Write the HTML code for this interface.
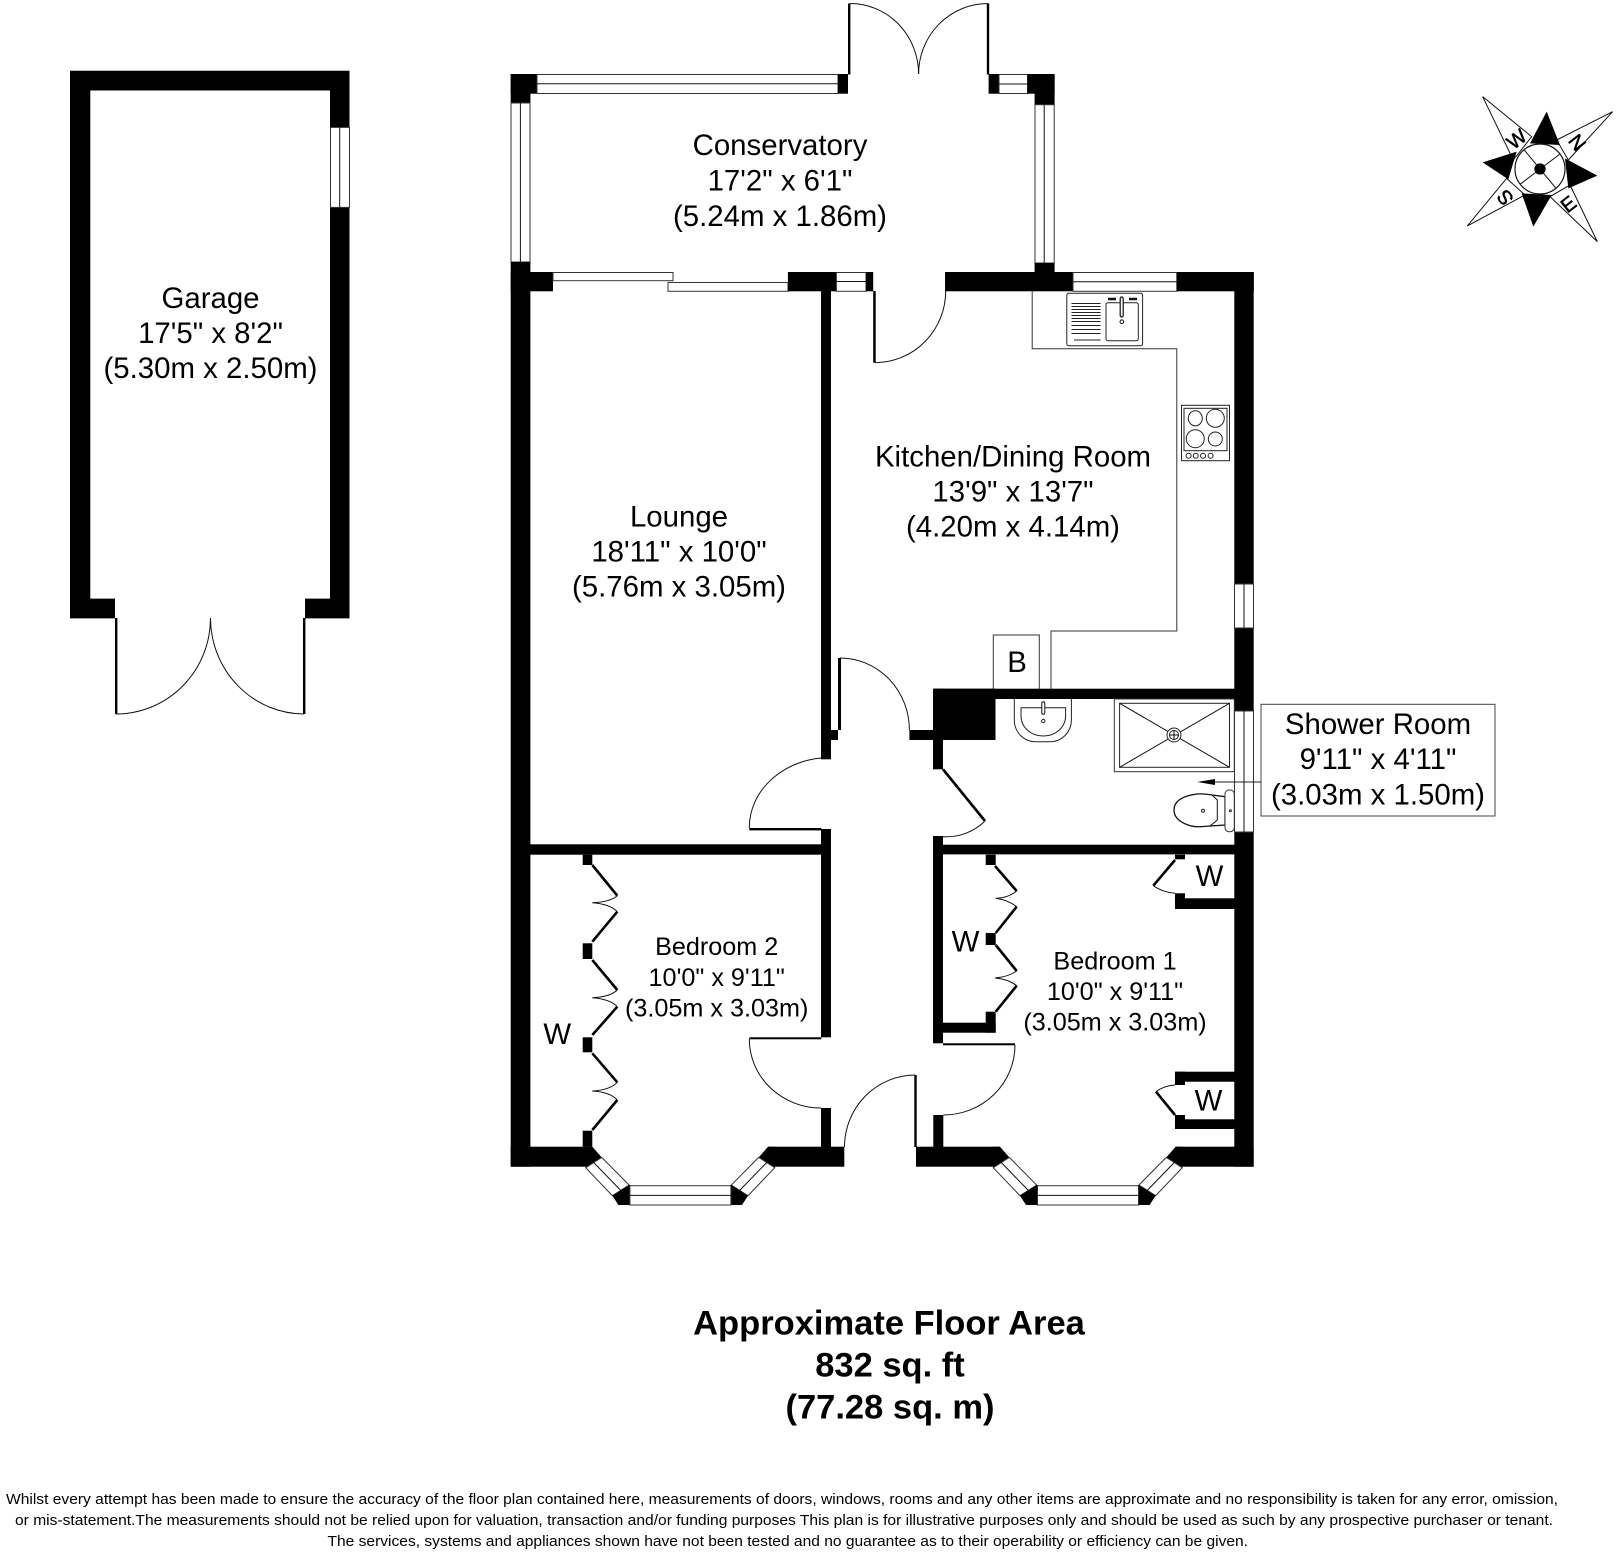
<!DOCTYPE html>
<html><head><meta charset="utf-8"><style>
html,body{margin:0;padding:0;background:#fff}
svg{display:block}
text{font-family:"Liberation Sans",sans-serif;fill:#000;text-anchor:middle}
.l{font-size:29.4px}.m{font-size:25.2px}
.w{fill:#fff;stroke:#333;stroke-width:1}
.t{fill:none;stroke:#111;stroke-width:1}
.d{fill:none;stroke:#000;stroke-width:2.6}
.u{fill:none;stroke:#333;stroke-width:1}
.b{fill:#000}
</style></head><body>
<svg width="1616" height="1554" viewBox="0 0 1616 1554" xmlns="http://www.w3.org/2000/svg">
<defs>
<g id="bayhalf">
<polygon class="b" points="-7,0 0,0 9.3,10.7 -6.7,21 -7,20"/>
<polygon class="w" points="9.3,10.7 36.7,38.3 20,49 -6.7,21"/>
<line class="t" x1="1.3" y1="15.8" x2="28.3" y2="43.7"/>
<polygon class="b" points="36.7,38.3 37.8,38.3 37.8,58.3 26,58.3 20,49"/>
</g>
<g id="bay">
<use href="#bayhalf"/>
<use href="#bayhalf" transform="translate(175.6,0) scale(-1,1)"/>
<rect class="w" x="37.5" y="39" width="101" height="19.3"/>
<line class="t" x1="37.5" y1="48.7" x2="138.5" y2="48.7"/>
</g>
</defs>
<rect width="1616" height="1554" fill="#fff"/>

<!-- Garage -->
<path class="b" fill-rule="evenodd" d="M70 70.7H349.5V618.4H305V598.6H330V90.5H90.3V598.6H115V618.4H70Z"/>
<rect class="w" x="330.5" y="127.4" width="19" height="80"/>
<line class="t" x1="339.7" y1="127.4" x2="339.7" y2="207.4"/>
<rect class="b" x="115" y="618" width="2.4" height="96"/>
<rect class="b" x="303" y="618" width="2.4" height="96"/>
<path class="t" d="M116 714A94.5 96 0 0 0 210.5 618"/>
<path class="t" d="M304 714A94 96 0 0 1 210.5 618"/>
<text class="l" x="210.5" y="308">Garage</text>
<text class="l" x="210.5" y="343">17'5" x 8'2"</text>
<text class="l" x="210.5" y="378">(5.30m x 2.50m)</text>

<!-- Conservatory -->
<rect class="b" x="510.7" y="74" width="26.3" height="19.7"/>
<rect class="b" x="510.7" y="74" width="19.7" height="29"/>
<rect class="w" x="537" y="74.5" width="301" height="19"/>
<line class="t" x1="537" y1="83.7" x2="838" y2="83.7"/>
<rect class="b" x="838" y="74" width="10" height="19.7"/>
<rect class="b" x="848" y="3.5" width="2.4" height="71"/>
<path class="t" d="M850 3.5A68.5 70.5 0 0 1 918.6 74"/>
<rect class="b" x="986.8" y="3.5" width="2.4" height="71"/>
<path class="t" d="M988 3.5A69.5 70.5 0 0 0 918.6 74"/>
<rect class="b" x="988.6" y="74" width="10.4" height="19.7"/>
<rect class="w" x="999" y="74.5" width="28.5" height="19"/>
<line class="t" x1="999" y1="84" x2="1027.5" y2="84"/>
<rect class="b" x="1027.5" y="74" width="27.1" height="19.7"/>
<rect class="b" x="1034.6" y="74" width="20" height="30.7"/>
<rect class="w" x="511" y="103" width="19" height="159"/>
<line class="t" x1="520.4" y1="103" x2="520.4" y2="262"/>
<rect class="w" x="1035" y="104.7" width="19.2" height="158.3"/>
<line class="t" x1="1044.2" y1="104.7" x2="1044.2" y2="263"/>
<rect class="b" x="1034.6" y="263" width="20" height="10"/>
<text class="l" x="780" y="155">Conservatory</text>
<text class="l" x="780" y="190.7">17'2" x 6'1"</text>
<text class="l" x="780" y="226">(5.24m x 1.86m)</text>

<!-- Top wall of house -->
<rect class="b" x="510.7" y="262" width="19.7" height="904.7"/>
<rect class="b" x="510.7" y="272" width="42.3" height="19.3"/>
<rect class="w" x="553" y="272.5" width="120" height="8.2"/>
<rect class="w" x="668" y="282.5" width="120" height="8.8"/>
<rect class="b" x="787.9" y="272" width="48.5" height="19.3"/>
<rect class="w" x="836.4" y="272.5" width="29.6" height="18.8"/>
<line class="t" x1="836.4" y1="281.5" x2="866" y2="281.5"/>
<rect class="b" x="866" y="272" width="7.2" height="19.3"/>
<rect class="b" x="873.2" y="291" width="2.5" height="71.7"/>
<path class="t" d="M875 362.7A71 71.7 0 0 0 945.7 291"/>
<rect class="b" x="945" y="272" width="128" height="19.3"/>
<rect class="w" x="1073" y="272.5" width="103.8" height="18.8"/>
<line class="t" x1="1073" y1="281.7" x2="1176.8" y2="281.7"/>
<rect class="b" x="1176.8" y="272" width="77" height="19.3"/>

<!-- Right wall -->
<rect class="b" x="1234.3" y="272" width="19.4" height="894.7"/>
<rect class="w" x="1234.5" y="584" width="19" height="44"/>
<line class="t" x1="1244" y1="584" x2="1244" y2="628"/>
<rect class="w" x="1234.5" y="711" width="19" height="121"/>
<line class="t" x1="1244" y1="711" x2="1244" y2="832"/>

<!-- Kitchen units -->
<path class="u" d="M1032.2 291V348.7H1176.8V631H1051V689"/>
<path class="u" d="M993.3 689V635H1039.3V689"/>
<rect x="1066.8" y="293.3" width="75.8" height="52.4" rx="2" fill="#fff" stroke="#222"/>
<g stroke="#222" stroke-width="1">
<line x1="1071.5" y1="303.5" x2="1100.6" y2="303.5"/><line x1="1071.5" y1="306.5" x2="1100.6" y2="306.5"/>
<line x1="1071.5" y1="309.5" x2="1100.6" y2="309.5"/><line x1="1071.5" y1="312.5" x2="1100.6" y2="312.5"/>
<line x1="1071.5" y1="315.5" x2="1100.6" y2="315.5"/><line x1="1071.5" y1="318.5" x2="1100.6" y2="318.5"/>
<line x1="1071.5" y1="321.5" x2="1100.6" y2="321.5"/><line x1="1071.5" y1="325.5" x2="1100.6" y2="325.5"/>
<line x1="1071.5" y1="329.5" x2="1100.6" y2="329.5"/><line x1="1071.5" y1="333.5" x2="1100.6" y2="333.5"/>
<line x1="1074" y1="340" x2="1100.6" y2="340"/>
</g>
<rect x="1106" y="302.7" width="32.3" height="38" rx="2" fill="#fff" stroke="#222"/>
<rect x="1120.2" y="297" width="3" height="20" rx="1.5" fill="#fff" stroke="#111" stroke-width="1.2"/>
<circle cx="1121.8" cy="321.7" r="1.8" fill="#fff" stroke="#111"/>
<path d="M1108 299h8M1129 299h8" stroke="#111" stroke-width="2.4"/>

<!-- Hob -->
<rect x="1181.5" y="405.3" width="48" height="55.4" fill="#fff" stroke="#222"/>
<rect x="1184" y="408.3" width="43" height="42.4" fill="#fff" stroke="#222"/>
<g fill="#fff" stroke="#222">
<ellipse cx="1195.3" cy="418.3" rx="7" ry="7.5"/>
<ellipse cx="1215.3" cy="418.3" rx="9" ry="9"/>
<ellipse cx="1195.3" cy="438.7" rx="9" ry="9"/>
<ellipse cx="1215.3" cy="439" rx="7" ry="7"/>
<circle cx="1188.6" cy="455.7" r="2.5"/><circle cx="1195.7" cy="455.7" r="2.5"/>
<circle cx="1203" cy="455.7" r="2.5"/><circle cx="1210.6" cy="455.7" r="2.5"/>
</g>
<text class="l" x="1017" y="672">B</text>
<text class="l" x="1013" y="466.7">Kitchen/Dining Room</text>
<text class="l" x="1013" y="501.7">13'9" x 13'7"</text>
<text class="l" x="1013" y="536.7">(4.20m x 4.14m)</text>

<!-- Lounge / hall wall -->
<rect class="b" x="821" y="291" width="10" height="468.3"/>
<rect class="b" x="821" y="730" width="17" height="10"/>
<rect class="b" x="838" y="658" width="3" height="72"/>
<path class="t" d="M840 658A69.4 72 0 0 1 909.4 730"/>
<rect class="b" x="909.4" y="730" width="25" height="10"/>
<rect class="b" x="934" y="688.7" width="61.5" height="51.3"/>
<rect class="b" x="934" y="688.7" width="300.5" height="10.3"/>
<rect class="b" x="933" y="688.7" width="10" height="80.6"/>
<line class="d" x1="943" y1="769.3" x2="985" y2="821"/>
<path class="t" d="M985 821A55 55 0 0 1 943 836.7"/>
<rect class="b" x="933" y="836" width="10" height="207.3"/>
<rect class="b" x="933" y="844.7" width="301.5" height="9.7"/>

<!-- Lounge door -->
<path class="t" d="M830 757.5A81 70 0 0 0 749.3 828"/>
<rect class="b" x="749.3" y="828" width="72" height="2.4"/>
<rect class="b" x="821" y="829" width="10" height="208.3"/>
<rect class="b" x="530" y="844.3" width="291" height="10.4"/>
<text class="l" x="679" y="526.5">Lounge</text>
<text class="l" x="679" y="561.5">18'11" x 10'0"</text>
<text class="l" x="679" y="596.5">(5.76m x 3.05m)</text>

<!-- Bedroom 2 door & walls -->
<rect class="b" x="749.3" y="1037.3" width="72" height="2"/>
<path class="t" d="M749.3 1039A71.7 69 0 0 0 821 1108"/>
<rect class="b" x="821" y="1108" width="10" height="39"/>
<rect class="b" x="510.7" y="1146.7" width="81.6" height="20"/>
<rect class="b" x="768" y="1146.7" width="76.3" height="20"/>
<use href="#bay" transform="translate(592.4,1146.7)"/>
<path class="t" d="M915 1075A71 72 0 0 0 844.5 1147"/>
<rect class="b" x="914.3" y="1075" width="2.4" height="72"/>

<!-- Bedroom 2 wardrobe -->
<rect class="b" x="582.7" y="854.7" width="9.6" height="10.3"/>
<rect class="b" x="582.7" y="943.3" width="9.6" height="15.7"/>
<rect class="b" x="582.7" y="1037.3" width="9.6" height="15"/>
<rect class="b" x="582.7" y="1130.7" width="9.6" height="16"/>
<path class="d" d="M592.3 865L617.3 895.7M617.3 911.7L592.3 941.7M592.3 960L617.3 990M617.3 1006.7L592.3 1035M592.3 1053.3L617.3 1082.3M617.3 1100L592.3 1130"/>
<path class="t" d="M617.3 895.7Q610 902 592.3 902.7Q610 904 617.3 911.7M617.3 990Q610 997 592.3 997.7Q610 999 617.3 1006.7M617.3 1082.3Q610 1090 592.3 1091Q610 1092 617.3 1100"/>
<text class="l" x="557.3" y="1044">W</text>
<text class="m" x="716.7" y="955">Bedroom 2</text>
<text class="m" x="716.7" y="986">10'0" x 9'11"</text>
<text class="m" x="716.7" y="1016.7">(3.05m x 3.03m)</text>

<!-- Bedroom 1 -->
<rect class="b" x="916" y="1146.7" width="84" height="20"/>
<rect class="b" x="1175.6" y="1146.7" width="78" height="20"/>
<use href="#bay" transform="translate(1000,1146.7)"/>
<rect class="b" x="943" y="1043.3" width="72" height="2"/>
<path class="t" d="M1015 1045A71.7 70 0 0 1 943.3 1115"/>
<rect class="b" x="933.3" y="1115" width="10" height="32"/>
<rect class="b" x="943" y="1022.7" width="52.7" height="10"/>
<rect class="b" x="985.7" y="854.7" width="10" height="10.3"/>
<rect class="b" x="985.7" y="933" width="10" height="12"/>
<rect class="b" x="985.7" y="1011.7" width="10" height="21"/>
<path class="d" d="M995 866L1016.7 891M1016.7 906.7L995.7 933M995.7 945L1016.7 971M1016.7 985.7L995.7 1011.7"/>
<path class="t" d="M1016.7 891Q1008 898 995.7 898.3Q1008 900 1016.7 906.7M1016.7 971Q1008 977 995 978Q1008 979 1016.7 985.7"/>
<text class="l" x="965.5" y="951.7">W</text>

<rect class="b" x="1175" y="854.7" width="10" height="4.6"/>
<line class="d" x1="1175" y1="860" x2="1153.3" y2="885.7"/>
<path class="t" d="M1153.3 885.7Q1162 892 1175 893.3"/>
<rect class="b" x="1175" y="893.3" width="10" height="15.7"/>
<rect class="b" x="1175" y="898.3" width="60" height="10.7"/>
<text class="l" x="1209.5" y="886">W</text>

<rect class="b" x="1175" y="1071.7" width="60" height="10"/>
<rect class="b" x="1175" y="1071.7" width="10" height="13.3"/>
<path class="t" d="M1156 1091.7Q1163 1086 1175 1085"/>
<line class="d" x1="1156" y1="1091.7" x2="1175" y2="1115"/>
<rect class="b" x="1175" y="1115" width="10" height="14"/>
<rect class="b" x="1175" y="1119.3" width="60" height="9.7"/>
<text class="l" x="1208.5" y="1110.7">W</text>

<text class="m" x="1115" y="969.3">Bedroom 1</text>
<text class="m" x="1115" y="1000">10'0" x 9'11"</text>
<text class="m" x="1115" y="1030.7">(3.05m x 3.03m)</text>

<!-- Shower room fixtures -->
<path d="M1014.3 699V720A21 21.7 0 0 0 1035.3 741.7H1050.4A21 21.7 0 0 0 1071.4 720V699" fill="#fff" stroke="#222"/>
<path d="M1021 707.7H1065.6V716A22 20 0 0 1 1043.3 736A22 20 0 0 1 1021 716Z" fill="#fff" stroke="#222"/>
<rect x="1041.8" y="701.7" width="3" height="12.5" rx="1.5" fill="#fff" stroke="#111"/>
<circle cx="1043.3" cy="721" r="1.7" fill="#fff" stroke="#222"/>
<rect x="1114.3" y="699" width="120" height="72.7" fill="#fff" stroke="#333"/>
<rect x="1119.6" y="703.3" width="109.9" height="64" fill="#fff" stroke="#222"/>
<path class="t" d="M1119.6 703.3L1229.5 767.3M1229.5 703.3L1119.6 767.3"/>
<circle cx="1174" cy="735" r="7" fill="#fff" stroke="#222"/>
<circle cx="1174" cy="735" r="4.5" fill="#fff" stroke="#222"/>
<path class="t" d="M1169.5 735H1178.5M1174 730.5V739.5"/>
<path d="M1225 796.7L1212 795Q1203 793.5 1197 794Q1174 797 1174 810Q1174 820 1188 825Q1195 827.5 1203 826.5L1225 825Z" fill="#fff" stroke="#111" stroke-width="1.3"/>
<path class="t" d="M1212 795L1217.3 800V820L1210 826"/>
<rect x="1225" y="790" width="9.3" height="41.7" rx="4" fill="#fff" stroke="#333"/>
<circle cx="1203" cy="810.7" r="1.5" fill="#fff" stroke="#222"/>
<circle cx="1230.4" cy="810.7" r="1" fill="#fff" stroke="#222"/>

<!-- Callout -->
<rect x="1261" y="704.3" width="234" height="111.7" fill="#fff" stroke="#444"/>
<line x1="1261" y1="782" x2="1212" y2="782" stroke="#222"/>
<polygon class="b" points="1197.3,782 1215,779 1215,785"/>
<text class="l" x="1378" y="734">Shower Room</text>
<text class="l" x="1378" y="769">9'11" x 4'11"</text>
<text class="l" x="1378" y="804.5">(3.03m x 1.50m)</text>

<!-- Compass -->
<g transform="translate(1450,80) scale(.3333)">
<g fill="#fff" stroke="#111" stroke-width="3">
<polygon points="98,50 245,170 190,240"/>
<polygon points="488,95 320,180 355,240"/>
<polygon points="442,485 300,350 360,315"/>
<polygon points="52,438 170,295 225,345"/>
</g>
<polygon class="b" points="240,190 290,95 330,195"/>
<polygon class="b" points="345,235 442,287 355,325"/>
<polygon class="b" points="215,340 250,440 305,345"/>
<polygon class="b" points="200,215 98,247 175,298"/>
<circle cx="270" cy="267" r="75" fill="#fff" stroke="#111" stroke-width="3.5"/>
<path d="M222 209L318 325M330 222L210 313" stroke="#111" stroke-width="3" fill="none"/>
<circle class="b" cx="270" cy="267" r="17"/>
<g style="font-size:60px;stroke:#000;stroke-width:1.5">
<text transform="translate(200,177) rotate(-38)" y="21">W</text>
<text transform="translate(382,187) rotate(52)" y="21">N</text>
<text transform="translate(355,372) rotate(-38)" y="21">E</text>
<text transform="translate(165,353) rotate(232)" y="21">S</text>
</g>
</g>

<!-- Area -->
<g style="font-weight:bold;font-size:34.5px">
<text x="889" y="1334.5">Approximate Floor Area</text>
<text x="890" y="1376.5">832 sq. ft</text>
<text x="890" y="1418.5">(77.28 sq. m)</text>
</g>

<!-- Disclaimer -->
<g style="font-size:15px">
<text style="text-anchor:start" x="6" y="1504" textLength="1552" lengthAdjust="spacingAndGlyphs">Whilst every attempt has been made to ensure the accuracy of the floor plan contained here, measurements of doors, windows, rooms and any other items are approximate and no responsibility is taken for any error, omission,</text>
<text style="text-anchor:start" x="15" y="1525" textLength="1538" lengthAdjust="spacingAndGlyphs">or mis-statement.The measurements should not be relied upon for valuation, transaction and/or funding purposes This plan is for illustrative purposes only and should be used as such by any prospective purchaser or tenant.</text>
<text style="text-anchor:start" x="327.5" y="1546" textLength="920.5" lengthAdjust="spacingAndGlyphs">The services, systems and appliances shown have not been tested and no guarantee as to their operability or efficiency can be given.</text>
</g>
</svg>
</body></html>
